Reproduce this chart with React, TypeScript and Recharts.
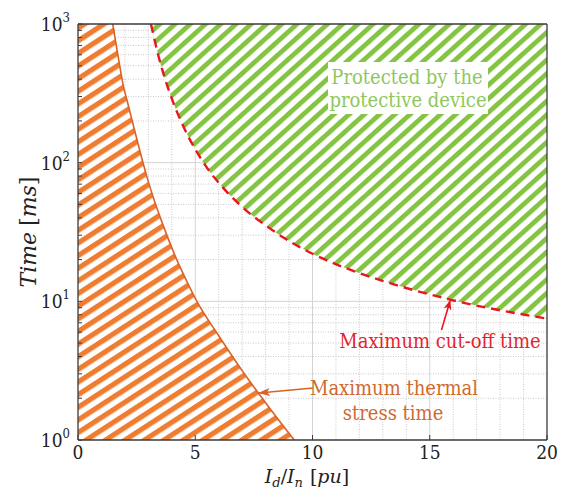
import React from 'react';
import { ComposedChart, Area, Line, XAxis, YAxis, CartesianGrid } from 'recharts';

const thermalX = [0, 1.48, 1.7, 1.93, 2.13, 2.5, 2.93, 3.21, 3.64, 4.21, 4.61, 5.07, 5.98, 6.98, 8.07, 9.22];
const thermalT = [1000, 1000, 600, 360, 265, 150, 80, 56, 35, 20, 14.3, 10, 5.72, 3.2, 1.79, 1];
const cutoffX = [3.11, 3.42, 3.78, 4.06, 4.49, 5.06, 5.56, 6.2, 6.91, 8.05, 9.04, 10.18, 11.6, 13.02, 15.86, 20];
const cutoffT = [1000, 598, 370, 272, 183, 120, 89, 65.5, 49.5, 34.8, 27, 21.3, 16.9, 14, 10.3, 7.5];
const xTicks = [0, 5, 10, 15, 20];
const yTicks = [1, 10, 100, 1000];
const yMinorTicks = [2, 3, 4, 5, 6, 7, 8, 9, 20, 30, 40, 50, 60, 70, 80, 90, 200, 300, 400, 500, 600, 700, 800, 900];
const xMajorGrid = [5, 10, 15];
const xMinorGrid = [1, 2, 3, 4, 6, 7, 8, 9, 11, 12, 13, 14, 16, 17, 18, 19];
const yMajorGrid = [10, 100];
const yMinorGrid = yMinorTicks;
const yExponents: Record<number, string> = { 1: '0', 10: '1', 100: '2', 1000: '3' };

const thermalData = thermalX.map((x, i) => ({ x, t: thermalT[i] }));
const thermalLineData = thermalData.slice(1);
const cutoffData = cutoffX.map((x, i) => ({ x, t: cutoffT[i], range: [cutoffT[i], 1000] }));

const SERIF = 'DejaVu Serif Condensed, DejaVu Serif, serif';
const MATH = 'DejaVu Serif, serif';
const ORANGE = '#ef7d31';
const ORANGE_LINE = '#d8632a';
const GREEN = '#84c442';
const RED = '#e8161f';

const XTick = (props: any) => {
  const { x, y, payload } = props;
  return (
    <text x={x} y={y + 14} textAnchor="middle" fontSize={19} style={{ fontFamily: SERIF }} fill="#222">
      {payload.value}
    </text>
  );
};

const YTick = (props: any) => {
  const { x, y, payload } = props;
  const e = yExponents[payload.value];
  if (e === undefined) return null;
  return (
    <text x={x} y={y + 7} textAnchor="end" fontSize={19} style={{ fontFamily: SERIF }} fill="#222">
      <tspan>10</tspan>
      <tspan fontSize={13} dy={-9}>{e}</tspan>
    </text>
  );
};

export default function App() {
  return (
    <div style={{ position: 'absolute', left: 0, top: 0, width: 563, height: 494, background: '#fff' }}>
      <svg width={0} height={0} style={{ position: 'absolute' }}>
        <defs>
          <pattern id="orangeStripes" patternUnits="userSpaceOnUse" width={20} height={10.6} patternTransform="rotate(-33)">
            <rect x={0} y={0} width={20} height={10.6} fill="#fff" />
            <rect x={0} y={0} width={20} height={5.2} fill={ORANGE} />
          </pattern>
          <pattern id="greenStripes" patternUnits="userSpaceOnUse" width={20} height={10.2} patternTransform="rotate(-42)">
            <rect x={0} y={0} width={20} height={10.2} fill="#fff" />
            <rect x={0} y={0} width={20} height={4.8} fill={GREEN} />
          </pattern>
          <marker id="arrRed" markerWidth={10} markerHeight={8} refX={9} refY={4} orient="auto" markerUnits="userSpaceOnUse">
            <path d="M0,0 L10,4 L0,8 L3,4 Z" fill={RED} />
          </marker>
          <marker id="arrOrange" markerWidth={12} markerHeight={8} refX={11} refY={4} orient="auto" markerUnits="userSpaceOnUse">
            <path d="M0,0 L12,4 L0,8 L3,4 Z" fill={ORANGE_LINE} />
          </marker>
        </defs>
      </svg>
      <ComposedChart width={563} height={494} margin={{ top: 23, right: 15, bottom: 24, left: 18 }}>
        <CartesianGrid verticalValues={xMinorGrid} horizontalValues={yMinorGrid} stroke="#bdbdbd" strokeDasharray="1 1.5" strokeWidth={0.8} />
        <CartesianGrid verticalValues={xMajorGrid} horizontalValues={yMajorGrid} stroke="#d4d4d4" strokeWidth={1} />
        <XAxis type="number" dataKey="x" domain={[0, 20]} ticks={xTicks} allowDataOverflow height={30}
          tickSize={-5} tickMargin={10} tick={<XTick />} axisLine={{ stroke: '#3a3a3a', strokeWidth: 1.3 }} tickLine={{ stroke: '#3a3a3a' }} />
        <XAxis xAxisId="top" orientation="top" type="number" domain={[0, 20]} ticks={xTicks} allowDataOverflow height={1}
          tickSize={-5} tick={false} axisLine={{ stroke: '#3a3a3a', strokeWidth: 1.3 }} tickLine={{ stroke: '#3a3a3a' }} />
        <YAxis type="number" scale="log" domain={[1, 1000]} ticks={[...yTicks, ...yMinorTicks]} allowDataOverflow width={60}
          tickSize={-4} tickMargin={12} tick={<YTick />} interval={0} axisLine={{ stroke: '#3a3a3a', strokeWidth: 1.3 }} tickLine={{ stroke: '#3a3a3a' }} />
        <YAxis yAxisId="right" orientation="right" type="number" scale="log" domain={[1, 1000]} ticks={[...yTicks, ...yMinorTicks]} allowDataOverflow width={1}
          tickSize={-4} tick={false} interval={0} axisLine={{ stroke: '#3a3a3a', strokeWidth: 1.3 }} tickLine={{ stroke: '#3a3a3a' }} />
        <Area data={cutoffData} dataKey="range" type="monotone" fill="url(#greenStripes)" fillOpacity={1} stroke="none" isAnimationActive={false} />
        <Area data={thermalData} dataKey="t" type="monotone" baseValue={1} fill="url(#orangeStripes)" fillOpacity={1} stroke="none" isAnimationActive={false} />
        <Line data={thermalLineData} dataKey="t" type="monotone" stroke={ORANGE_LINE} strokeWidth={1.6} dot={false} isAnimationActive={false} />
        <Line data={cutoffData} dataKey="t" type="monotone" stroke={RED} strokeWidth={2.4} strokeDasharray="9 6" dot={false} isAnimationActive={false} />
      </ComposedChart>
      <svg width={563} height={494} style={{ position: 'absolute', left: 0, top: 0, pointerEvents: 'none' }}>
        <rect x={328} y={62} width={160} height={52} fill="#fff" />
        <g style={{ fontFamily: SERIF }} fontSize={20}>
          <text x={407} y={84} textAnchor="middle" fill="#8fc75c">Protected by the</text>
          <text x={408} y={107} textAnchor="middle" fill="#8fc75c">protective device</text>
          <text x={440} y={348} textAnchor="middle" fill="#e2252d">Maximum cut-off time</text>
          <text x={394} y={395} textAnchor="middle" fill="#d0692e">Maximum thermal</text>
          <text x={393} y={420} textAnchor="middle" fill="#d0692e">stress time</text>
        </g>
        <line x1={441.5} y1={330} x2={450} y2={301} stroke={RED} strokeWidth={1.6} markerEnd="url(#arrRed)" />
        <line x1={313} y1={388} x2={259} y2={393} stroke={ORANGE_LINE} strokeWidth={1.6} markerEnd="url(#arrOrange)" />
        <text x={36} y={232} transform="rotate(-90, 36, 232)" textAnchor="middle" fontSize={22} style={{ fontFamily: MATH }} fill="#222">
          <tspan fontStyle="italic">Time</tspan>
          <tspan dx={6}>[</tspan>
          <tspan fontStyle="italic">ms</tspan>
          <tspan>]</tspan>
        </text>
        <text x={307} y={483} textAnchor="middle" fontSize={19} style={{ fontFamily: MATH }} fill="#222">
          <tspan fontStyle="italic">I</tspan>
          <tspan fontStyle="italic" fontSize={13} dy={4}>d</tspan>
          <tspan dy={-4}>/</tspan>
          <tspan fontStyle="italic">I</tspan>
          <tspan fontStyle="italic" fontSize={13} dy={4}>n</tspan>
          <tspan dy={-4} dx={7}>[</tspan>
          <tspan fontStyle="italic">pu</tspan>
          <tspan>]</tspan>
        </text>
      </svg>
    </div>
  );
}
